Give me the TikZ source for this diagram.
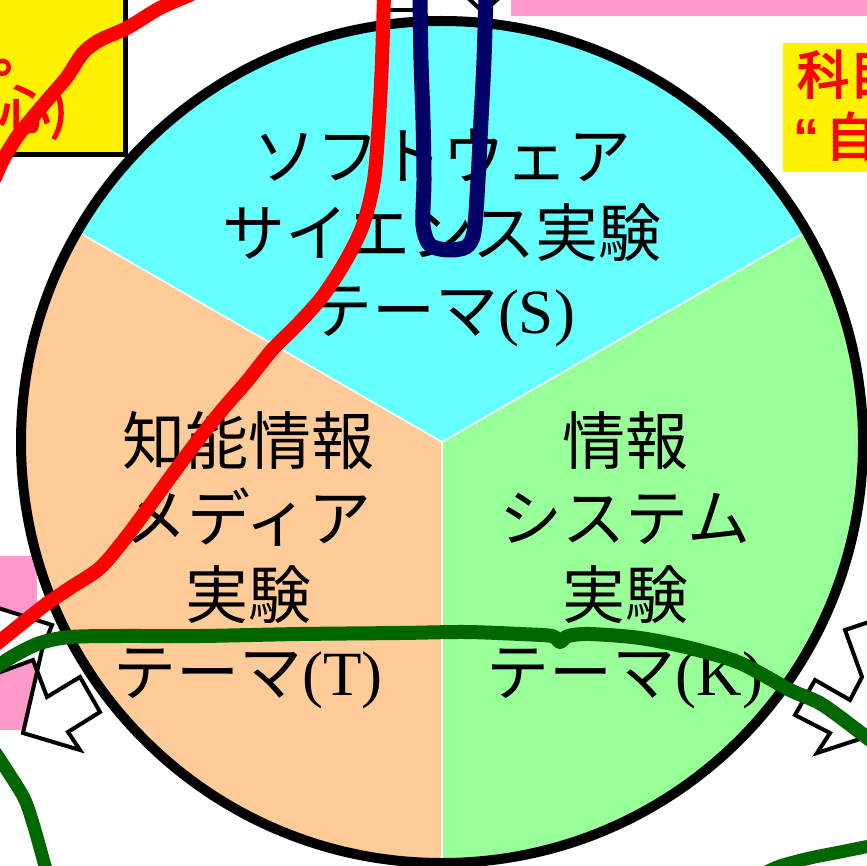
\documentclass[tikz,border=0pt]{standalone}
\usepackage{fontspec}
\setmainfont{Liberation Serif}
\newfontfamily\jpfont{Noto Sans CJK JP}
\newfontfamily\jpbold[FakeBold=3]{Noto Sans CJK JP}
\newfontfamily\latbold{Liberation Sans}
\definecolor{themeS}{HTML}{66FFFF}
\definecolor{themeT}{HTML}{FFCC99}
\definecolor{themeK}{HTML}{99FF99}
\definecolor{pinkbox}{HTML}{FF99CC}
\definecolor{penred}{HTML}{FF0000}
\definecolor{pennavy}{HTML}{000066}
\definecolor{pengreen}{HTML}{006600}
\tikzset{
  theme/.style={align=center,font=\fontsize{63}{77}\selectfont\jpfont},
  memo/.style={text=penred,inner sep=0pt,font=\fontsize{52}{52}\selectfont\jpbold},
  pen/.style={line width=#1,line cap=round,line join=round},
  jag/.style={fill=white,draw=black,line width=4pt,line join=miter}
}
\begin{document}
\begin{tikzpicture}[x=1pt,y=-1pt]
\useasboundingbox (0,0) rectangle (866,866);
% boxes round the wheel
\fill[pinkbox] (511,-5) rectangle (875,16);
\fill[pinkbox] (-5,556) rectangle (37,730);
\draw[fill=yellow,line width=5pt] (-10,-10) rectangle (125,155);
\fill[yellow] (783,43) rectangle (875,172);
\node[memo,anchor=base west] (dotL) at (-8,72) {。};
\node[memo,anchor=base east] (noteL) at (68,129) {心)};
\node[memo,anchor=base west] (noteR1) at (797,94) {科目};
\node[memo,anchor=base west] (noteR2) at (793,156) {{\latbold\bfseries “}\hspace{6pt}自};
% arrows
\draw[line width=4pt] (388,10) -- (420,10);
\draw[line width=4pt] (468,-2) -- (483,12) -- (499,-2);
\draw[jag] (-5,607) -- (52,625) -- (42,650) -- (23,733) -- (80,750) -- (68,732)
  -- (100,712) -- (80,677) -- (47,697) -- (33,660) -- (-5,674);
\draw[jag] (872,621) -- (845,630) -- (862,677) -- (850,700) -- (815,680) -- (795,715)
  -- (830,733) -- (817,753) -- (872,735);
% wheel
\coordinate (c) at (442,442);
\fill[themeS] (c) -- ++(210:421) arc[start angle=210,end angle=330,radius=421] -- cycle;
\fill[themeT] (c) -- ++(90:421) arc[start angle=90,end angle=210,radius=421] -- cycle;
\fill[themeK] (c) -- ++(330:421) arc[start angle=-30,end angle=90,radius=421] -- cycle;
\draw[white,line width=1.5pt] (c) -- ++(210:421) (c) -- ++(330:421) (c) -- ++(90:421);
\draw[line width=10pt] (c) circle[radius=421];
\node[theme] (themeS) at (442,238) {ソフトウェア\\サイエンス実験\\テーマ{\rmfamily(S)}};
\node[theme] (themeT) at (248,560) {知能情報\\メディア\\実験\\テーマ{\rmfamily(T)}};
\node[theme] (themeK) at (625,560) {情報\\システム\\実験\\テーマ{\rmfamily(K)}};
% pen strokes
\draw[pen=14pt,penred] plot[smooth] coordinates {(190,-5) (160,8) (127,28) (100,40) (83,53)
  (67,77) (50,97) (33,117) (17,137) (3,160) (-5,178)};
\draw[pen=14pt,penred] plot[smooth] coordinates {(384,-5) (382,60) (379,120) (374,180) (363,225)
  (345,262) (322,297) (297,325) (272,350) (248,380) (222,410) (198,440) (172,475)
  (148,508) (124,540) (100,568) (70,588) (45,605) (20,625) (-5,645)};
\draw[pen=15pt,pennavy] plot[smooth] coordinates {(420,-5) (421,60) (423,120) (424,180) (423,225)
  (430,245) (448,250) (466,247) (474,232) (478,180) (481,120) (484,60) (486,-5)};
\draw[pen=14pt,pengreen] plot[smooth] coordinates {(-5,668) (15,655) (40,643) (70,637) (120,636)
  (200,636) (300,634) (400,633) (465,632) (520,634) (552,636) (560,642) (568,636)
  (590,634) (640,638) (690,648) (740,663) (790,690) (823,705) (870,740)};
\draw[pen=13pt,pengreen] plot[smooth] coordinates {(-5,752) (10,775) (25,800) (35,830) (45,866) (48,875)};
\draw[pen=13pt,pengreen] plot[smooth] coordinates {(870,846) (840,852) (810,858) (780,866) (760,875)};
\end{tikzpicture}
\end{document}
